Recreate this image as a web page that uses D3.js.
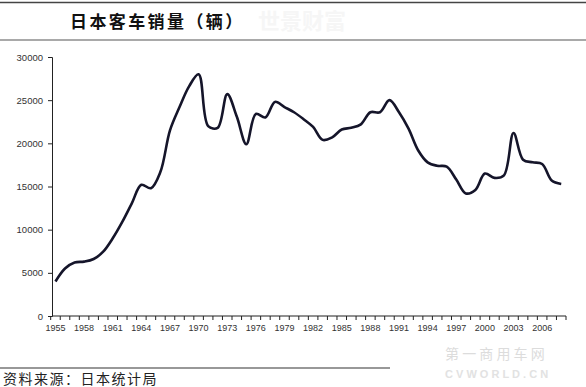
<!DOCTYPE html>
<html>
<head>
<meta charset="utf-8">
<script src="https://cdn.jsdelivr.net/npm/d3@7"></script>
<style>
  body { margin: 0; background: #fff; }
  svg { display: block; }
</style>
</head>
<body>
<div id="chart"></div>
<script>
// sales of buses in japan
var years = d3.range(1955, 2009);
var sales = [4000, 5500, 6200, 6300, 6600, 7450, 9000, 10900, 13050, 15200,
             14800, 16700, 21500, 24200, 26600, 28000, 22000, 21800, 25700, 23100,
             19900, 23400, 23000, 24800, 24200, 23600, 22800, 21900, 20400, 20700,
             21600, 21800, 22200, 23600, 23600, 25000, 23600, 21700, 19200, 17800,
             17400, 17300, 15800, 14200, 14600, 16500, 16000, 16300, 21200, 18100,
             17800, 17600, 15700, 15300];
var yTicks = [0, 5000, 10000, 15000, 20000, 25000, 30000];
var xLabels = d3.range(1955, 2007, 3);

var W = 586, H = 387;

var svg = d3.select("#chart").append("svg")
    .attr("width", W)
    .attr("height", H);

var x = d3.scaleLinear().domain([1954.5, 2008.5]).range([50.7, 566]);
var y = d3.scaleLinear().domain([0, 30000]).range([316, 57]);

// header rules and title
svg.append("line").attr("x1", 0).attr("x2", W).attr("y1", 2.5).attr("y2", 2.5)
    .style("stroke", "#444").style("stroke-width", 1.5);
svg.append("line").attr("x1", 0).attr("x2", W).attr("y1", 40).attr("y2", 40)
    .style("stroke", "#555").style("stroke-width", 1.2);

// very faint watermark next to the title
svg.append("text")
    .attr("x", 258).attr("y", 29)
    .text("世景财富")
    .style("font-family", "Noto Sans CJK SC")
    .style("font-size", "22px")
    .style("font-weight", "bold")
    .style("fill", "#f6f6f6");

svg.append("text")
    .attr("x", 70).attr("y", 28)
    .text("日本客车销量（辆）")
    .style("font-family", "Noto Sans CJK SC")
    .style("font-weight", "bold")
    .style("font-size", "17px")
    .style("letter-spacing", "2.4px")
    .style("fill", "#111");

// y axis
var yAxis = svg.append("g")
    .attr("transform", "translate(52,0)")
    .call(d3.axisLeft(y).tickValues(yTicks).tickSize(4).tickPadding(5).tickFormat(d3.format("d")));
yAxis.select(".domain").style("stroke", "#222");
yAxis.selectAll(".tick line").style("stroke", "#222");
yAxis.selectAll("text")
    .style("font-family", "Liberation Sans, Arial")
    .style("font-size", "9.5px")
    .style("fill", "#333");

// x axis: baseline, yearly ticks, labels every 3 years
var g = svg.append("g");
g.append("line")
    .attr("x1", 52).attr("x2", x(2008.5))
    .attr("y1", y(0)).attr("y2", y(0))
    .style("stroke", "#222").style("stroke-width", 1.2);
g.selectAll(".xt")
    .data(d3.range(1954.5, 2009, 1))
    .enter().append("line")
    .attr("class", "xt")
    .attr("x1", function(d) { return x(d); })
    .attr("x2", function(d) { return x(d); })
    .attr("y1", y(0)).attr("y2", y(0) + 4)
    .style("stroke", "#222");
g.selectAll(".xl")
    .data(xLabels)
    .enter().append("text")
    .attr("class", "xl")
    .attr("x", function(d) { return x(d); })
    .attr("y", y(0) + 15)
    .attr("text-anchor", "middle")
    .text(function(d) { return d; })
    .style("font-family", "Liberation Sans, Arial")
    .style("font-size", "9px")
    .style("fill", "#333");

// the line
var line = d3.line()
    .x(function(d, i) { return x(years[i]); })
    .y(function(d) { return y(d); })
    .curve(d3.curveCatmullRom.alpha(0.5));

svg.append("path")
    .datum(sales)
    .attr("d", line)
    .style("fill", "none")
    .style("stroke", "#15152a")
    .style("stroke-width", 2.6)
    .style("stroke-linejoin", "round");

// footer
svg.append("line").attr("x1", 0).attr("x2", 390).attr("y1", 368).attr("y2", 368)
    .style("stroke", "#333").style("stroke-width", 1.2);
svg.append("text")
    .attr("x", 3).attr("y", 384)
    .text("资料来源：日本统计局")
    .style("font-family", "Noto Sans CJK SC")
    .style("font-size", "14px")
    .style("letter-spacing", "1.5px")
    .style("fill", "#222");

// faint site watermark, bottom right
svg.append("text")
    .attr("x", 445).attr("y", 359)
    .text("第 一 商 用 车 网")
    .style("font-family", "Noto Sans CJK SC")
    .style("font-size", "14px")
    .style("fill", "#dcdcdc");
svg.append("text")
    .attr("x", 445).attr("y", 378)
    .text("C V W O R L D . C N")
    .style("font-family", "Liberation Sans, Arial")
    .style("font-size", "11px")
    .style("font-weight", "bold")
    .style("fill", "#e2e2e2");
</script>
</body>
</html>
